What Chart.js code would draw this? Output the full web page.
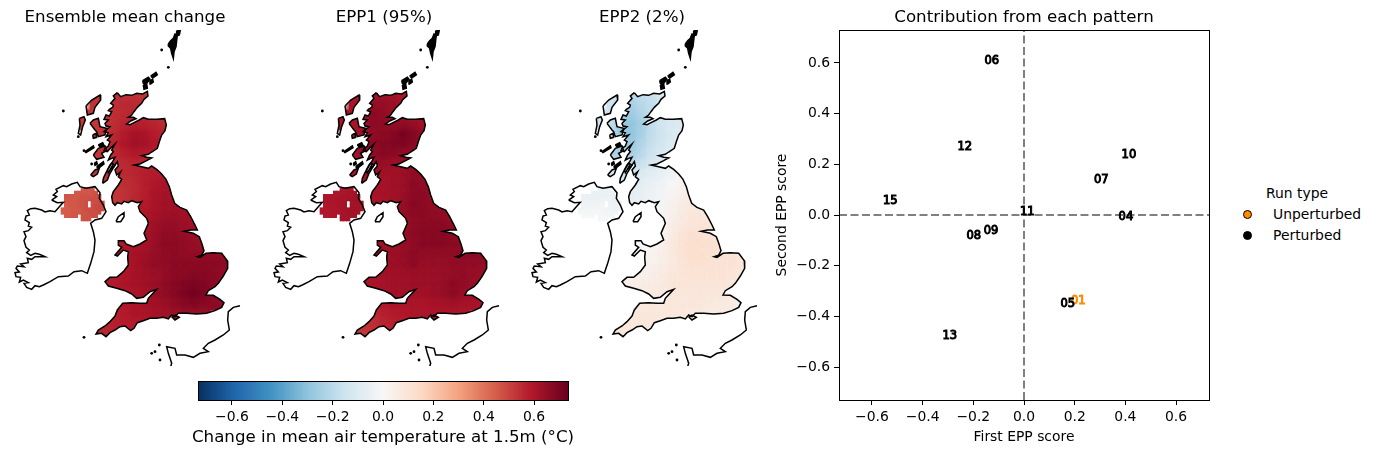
<!DOCTYPE html>
<html>
<head>
<meta charset="utf-8">
<title>Pattern contributions</title>
<script src="https://cdn.jsdelivr.net/npm/chart.js@4"></script>
<style>
  html, body { margin:0; padding:0; background:#fff; }
  body { width:1376px; height:454px; position:relative; overflow:hidden; font-family:"DejaVu Sans"; color:#000; }
  canvas { position:absolute; }
  .legend { position:absolute; left:1240px; top:185px; width:136px; height:65px; font-size:13.9px; }
  .legend div { position:absolute; white-space:nowrap; }
  .legend i { position:absolute; width:7px; height:7px; border:1px solid #000; border-radius:50%; }
  .barTitle { position:absolute; left:133px; top:427px; width:500px; text-align:center; font-size:16.67px; line-height:20px; white-space:nowrap; }
</style>
</head>
<body>
<canvas id="mapEnsemble" width="250" height="366" style="left:0;top:0"></canvas>
<canvas id="mapEpp1" width="250" height="366" style="left:259px;top:0"></canvas>
<canvas id="mapEpp2" width="250" height="366" style="left:517px;top:0"></canvas>
<canvas id="colorBar" width="430" height="79" style="left:170px;top:375px"></canvas>
<canvas id="scoreChart" width="460" height="454" style="left:770px;top:0"></canvas>
<div class="barTitle">Change in mean air temperature at 1.5m (°C)</div>
<div class="legend">
  <div style="left:26px;top:0">Run type</div>
  <i style="left:3px;top:25px;background:#ff8c00"></i><div style="left:33px;top:21px">Unperturbed</div>
  <i style="left:3px;top:46px;background:#000"></i><div style="left:33px;top:42px">Perturbed</div>
</div>
<script>
/* ============================================
   DATA
============================================ */
const _ = null;

const runIds = ["01","04","05","06","07","08","09","10","11","12","13","15"];
const firstScores  = [0.214,0.402,0.173,-0.127,0.305,-0.198,-0.130,0.414,0.013,-0.234,-0.293,-0.528];
const secondScores = [-0.338,-0.008,-0.351,0.608,0.138,-0.083,-0.062,0.238,0.013,0.269,-0.478,0.054];
const runTypes = ["Unperturbed","Perturbed","Perturbed","Perturbed","Perturbed","Perturbed","Perturbed","Perturbed","Perturbed","Perturbed","Perturbed","Perturbed"];
const scoreTicks = [-0.6,-0.4,-0.2,0,0.2,0.4,0.6];

/* map grid: cell centres */
const gridCols = [255,285,315,345,375,405,435,465,495,525,555,585,615,645,675];
const gridRows = [225,255,285,315,345,375,405,435,465,495,525,555,585,615,645,675,705,735,765,795,825,855,885,915,945];

const ensembleCells = [
[_,.53,.53,.54,.54,.54,.53,.53,_,_,_,_,_,_,_],
[_,.53,.53,.54,.55,.55,.54,_,_,_,_,_,_,_,_],
[.52,.52,.53,.54,.55,.56,.55,.54,.54,.53,_,_,_,_,_],
[.52,.52,.53,.54,.56,.57,.57,.56,.55,.54,_,_,_,_,_],
[_,.52,.53,.55,.58,.61,.60,.58,.56,.54,_,_,_,_,_],
[_,.52,.53,.56,.59,.62,.61,.59,.57,_,_,_,_,_,_],
[_,.52,.53,.55,.57,.59,.58,.57,.56,_,_,_,_,_,_],
[_,.52,.53,.54,.55,.56,.56,.56,.56,_,_,_,_,_,_],
[_,.52,.53,.54,.55,.56,.57,.58,.58,.58,_,_,_,_,_],
[_,.52,.52,.53,.54,.55,.57,.59,.60,.60,_,_,_,_,_],
[_,_,.52,.52,.53,.55,.57,.60,.61,.61,.60,_,_,_,_],
[_,_,.52,.52,.54,.56,.58,.60,.62,.62,.61,_,_,_,_],
[_,_,_,_,_,.57,.59,.61,.62,.63,.62,.61,_,_,_],
[_,_,_,_,_,.58,.60,.62,.64,.64,.63,.62,.61,_,_],
[_,_,_,_,.58,.59,.60,.63,.65,.65,.64,.63,.62,_,_],
[_,_,_,.58,.59,.60,.61,.63,.66,.66,.65,.64,.63,.63,.63],
[_,_,_,.58,.59,.61,.62,.64,.65,.66,.65,.65,.65,.65,.65],
[_,_,_,.58,.59,.61,.63,.65,.65,.66,.66,.66,.66,.66,.66],
[_,_,.57,.58,.59,.61,.62,.63,.64,.66,.66,.67,.67,.66,.65],
[_,.56,.57,.58,.60,.61,.62,.63,.65,.67,.68,.69,.68,.66,.65],
[_,_,.57,.58,.59,.60,.61,.63,.65,.67,.69,.71,.69,.67,.66],
[_,_,.55,.57,.59,.60,.61,.62,.63,.65,.67,.68,.67,.66,.65],
[_,.55,.56,.57,.58,.60,.60,.61,.62,.63,.64,.64,.64,_,_],
[.54,.55,.56,.57,.58,.58,.59,_,_,_,_,_,_,_,_],
[.54,.55,.56,.56,.56,_,_,_,_,_,_,_,_,_,_]
];

const epp1Cells = [
[_,.60,.60,.62,.62,.62,.60,.60,_,_,_,_,_,_,_],
[_,.60,.62,.64,.64,.63,.61,_,_,_,_,_,_,_,_],
[.60,.60,.62,.66,.65,.63,.62,.62,.60,.60,_,_,_,_,_],
[.60,.60,.62,.66,.65,.64,.65,.64,.62,.60,_,_,_,_,_],
[_,.60,.63,.65,.66,.67,.70,.68,.64,.60,_,_,_,_,_],
[_,.60,.64,.66,.67,.68,.69,.67,.64,_,_,_,_,_,_],
[_,.60,.64,.65,.67,.66,.65,.64,.63,_,_,_,_,_,_],
[_,.60,.62,.64,.64,.63,.63,.63,.63,_,_,_,_,_,_],
[_,.60,.61,.62,.62,.62,.63,.65,.65,.63,_,_,_,_,_],
[_,.60,.60,.61,.61,.62,.63,.66,.65,.63,_,_,_,_,_],
[_,_,.60,.60,.61,.62,.63,.66,.66,.64,.63,_,_,_,_],
[_,_,.60,.60,.61,.62,.64,.67,.66,.65,.64,_,_,_,_],
[_,_,_,_,_,.62,.64,.66,.66,.65,.65,.64,_,_,_],
[_,_,_,_,_,.62,.63,.65,.66,.66,.66,.65,.64,_,_],
[_,_,_,_,.62,.62,.63,.66,.67,.67,.67,.66,.64,_,_],
[_,_,_,.61,.62,.63,.64,.65,.67,.67,.67,.66,.66,.66,.66],
[_,_,_,.61,.62,.63,.64,.66,.65,.65,.65,.65,.66,.66,.66],
[_,_,_,.61,.62,.63,.64,.66,.64,.64,.64,.65,.65,.65,.65],
[_,_,.60,.60,.62,.62,.63,.63,.63,.63,.64,.64,.65,.64,.64],
[_,.59,.60,.60,.61,.62,.62,.63,.63,.63,.64,.66,.65,.64,.63],
[_,_,.59,.60,.61,.62,.62,.62,.62,.63,.64,.66,.64,.63,.62],
[_,_,.55,.57,.59,.60,.60,.60,.60,.61,.61,.62,.61,.61,.60],
[_,.53,.54,.55,.57,.58,.59,.60,.60,.60,.60,.60,.60,_,_],
[.50,.52,.53,.54,.56,.57,.58,_,_,_,_,_,_,_,_],
[.50,.51,.52,.53,.54,_,_,_,_,_,_,_,_,_,_]
];

const epp2Cells = [
[_,-.12,-.15,-.20,-.18,-.16,-.12,-.10,_,_,_,_,_,_,_],
[_,-.15,-.20,-.24,-.20,-.18,-.14,_,_,_,_,_,_,_,_],
[-.15,-.15,-.24,-.26,-.22,-.18,-.14,-.12,-.10,-.10,_,_,_,_,_],
[-.15,-.18,-.27,-.29,-.25,-.18,-.14,-.11,-.10,-.10,_,_,_,_,_],
[_,-.20,-.27,-.29,-.24,-.18,-.15,-.11,-.09,-.08,_,_,_,_,_],
[_,-.22,-.27,-.27,-.22,-.17,-.14,-.10,-.08,_,_,_,_,_,_],
[_,-.22,-.25,-.25,-.20,-.15,-.11,-.09,-.07,_,_,_,_,_,_],
[_,-.18,-.20,-.20,-.16,-.12,-.09,-.07,-.06,_,_,_,_,_,_],
[_,-.14,-.14,-.12,-.10,-.08,-.05,-.03,0,.02,_,_,_,_,_],
[_,-.10,-.10,-.09,-.07,-.05,-.03,0,.02,.03,_,_,_,_,_],
[_,_,-.08,-.07,-.06,-.04,-.02,.01,.03,.05,.05,_,_,_,_],
[_,_,-.06,-.05,-.05,-.04,-.01,.03,.05,.07,.06,_,_,_,_],
[_,_,_,_,_,-.04,-.01,.03,.06,.08,.08,.07,_,_,_],
[_,_,_,_,_,-.03,0,.04,.07,.09,.09,.09,.08,_,_],
[_,_,_,_,-.02,-.02,.01,.05,.09,.11,.11,.10,.09,_,_],
[_,_,_,0,0,.01,.03,.07,.10,.12,.12,.11,.10,.09,.09],
[_,_,_,.01,.01,.02,.04,.07,.10,.12,.12,.11,.10,.10,.09],
[_,_,_,.01,.02,.03,.04,.07,.09,.11,.11,.10,.10,.10,.09],
[_,_,.03,.03,.03,.04,.06,.08,.09,.10,.10,.10,.10,.09,.08],
[_,.04,.04,.04,.05,.06,.07,.08,.09,.09,.09,.09,.09,.08,.07],
[_,_,.05,.05,.05,.06,.07,.08,.08,.08,.08,.08,.08,.07,.06],
[_,_,.07,.07,.07,.07,.07,.08,.08,.08,.08,.07,.07,.06,.05],
[_,.08,.08,.08,.08,.08,.08,.08,.08,.07,.07,.06,.06,_,_],
[.08,.08,.08,.08,.08,.08,.07,_,_,_,_,_,_,_,_],
[.08,.08,.08,.08,.08,_,_,_,_,_,_,_,_,_,_]
];

/* Northern Ireland is on a finer grid */
const niCols = [188,198,208,218,228,238,248,258,268,278,288,298,308];
const niRows = [508,518,528,538,548,558,568,578,588,598];

const ensembleNi = [
[_,_,_,_,_,_,.46,.46,.46,.46,_,_,_],
[_,_,_,_,.46,.46,.46,.46,.46,.47,.47,_,_],
[_,.47,.46,.46,.46,.46,.47,.47,.47,.47,.48,.48,_],
[_,.46,.46,.46,.46,.47,.47,.47,.48,.48,.48,.48,_],
[_,.46,.46,.46,.46,.47,.47,.48,_,.48,.48,.49,.49],
[_,.45,.46,.46,.46,.47,.47,.48,_,.48,.49,.49,.49],
[.45,.45,.45,.46,.46,.46,.47,.48,.48,.48,.49,.49,.49],
[.45,.45,.45,.46,.46,.46,.47,.47,.48,.48,.48,.49,_],
[_,.45,.45,.46,.46,_,.47,.47,.47,.48,.48,_,_],
[_,_,_,_,_,_,.47,.47,.47,_,_,_,_]
];

const epp1Ni = [
[_,_,_,_,_,_,.60,.60,.60,.60,_,_,_],
[_,_,_,_,.60,.60,.60,.60,.61,.61,.61,_,_],
[_,.60,.60,.60,.60,.60,.61,.61,.61,.61,.62,.62,_],
[_,.60,.60,.60,.60,.61,.61,.61,.62,.62,.62,.62,_],
[_,.60,.60,.60,.60,.61,.61,.62,_,.62,.62,.62,.62],
[_,.59,.60,.60,.60,.61,.61,.62,_,.62,.62,.62,.62],
[.59,.59,.59,.60,.60,.60,.61,.62,.62,.62,.62,.62,.62],
[.59,.59,.59,.60,.60,.60,.61,.61,.62,.62,.62,.62,_],
[_,.59,.59,.60,.60,_,.61,.61,.61,.62,.62,_,_],
[_,_,_,_,_,_,.61,.61,.61,_,_,_,_]
];

const epp2Ni = [
[_,_,_,_,_,_,-.05,-.05,-.05,-.05,_,_,_],
[_,_,_,_,-.05,-.05,-.05,-.05,-.05,-.05,-.05,_,_],
[_,-.05,-.05,-.05,-.05,-.05,-.05,-.05,-.05,-.05,-.05,-.05,_],
[_,-.05,-.05,-.05,-.05,-.05,-.04,-.04,-.04,-.04,-.05,-.05,_],
[_,-.04,-.04,-.04,-.04,-.04,-.03,-.03,_,-.04,-.04,-.05,-.05],
[_,-.03,-.03,-.03,-.03,-.03,-.03,-.02,_,-.03,-.04,-.04,-.04],
[-.02,-.02,-.02,-.02,-.02,-.02,-.02,-.02,-.02,-.03,-.03,-.04,-.04],
[-.01,-.01,-.01,-.01,-.01,-.01,-.01,-.01,-.02,-.02,-.03,-.03,_],
[_,0,0,0,0,_,-.01,-.01,-.01,-.02,-.02,_,_],
[_,_,_,_,_,_,-.01,-.01,-.01,_,_,_,_]
];

/* coastlines, map grid units, x,y pairs */
const coastGreatBritain = [352,218,362,230,378,224,395,226,410,220,428,222,442,214,444,228,432,238,425,250,412,262,402,275,395,285,385,292,400,292,408,296,392,303,380,312,390,314,402,308,418,300,430,293,445,298,470,298,494,296,499,315,495,332,485,345,478,365,472,385,455,396,445,403,425,407,440,412,455,414,440,422,420,432,403,435,425,440,445,445,455,438,470,448,485,462,498,478,508,500,515,525,524,550,540,562,560,570,572,590,585,615,592,630,572,630,552,634,580,640,598,650,606,672,612,692,605,706,592,710,600,712,618,700,640,698,665,700,682,722,683,745,670,768,655,790,645,800,625,812,618,825,640,826,660,838,672,848,665,862,645,872,620,880,590,882,560,880,535,880,525,890,515,885,505,897,490,892,470,895,450,895,430,902,412,908,402,925,392,932,375,918,360,920,345,930,330,938,318,950,305,940,288,942,295,930,315,918,330,905,345,888,352,870,368,850,395,848,420,850,440,850,445,835,470,808,450,815,430,832,410,835,395,822,375,812,350,805,325,798,315,785,330,772,350,772,370,755,385,735,383,712,385,695,370,690,352,708,345,705,365,682,355,675,355,662,372,662,378,672,400,680,420,672,440,660,432,640,445,610,440,595,420,575,415,560,425,545,412,548,395,542,385,548,372,544,365,552,352,548,345,556,338,548,335,530,340,515,355,495,365,478,355,470,362,455,350,465,345,450,355,438,352,425,342,440,335,445,340,432,325,458,322,450,330,435,338,425,345,412,335,415,325,420,332,405,340,395,335,390,345,372,332,384,322,395,312,392,315,385,325,378,330,365,322,360,335,345,318,350,325,338,312,335,330,320,318,318,315,310,325,300,312,298,318,285,328,288,335,275,325,272,328,268,338,262,340,255,332,250,345,235,340,228,352,218];
const coastIreland = [155,540,170,530,160,525,172,515,168,508,190,497,200,500,215,492,232,487,240,500,258,505,285,500,300,518,298,535,310,555,318,575,305,595,285,600,272,610,280,635,285,660,282,695,272,730,262,760,245,752,222,755,205,768,175,770,150,785,130,795,118,800,105,797,95,808,80,802,72,790,85,788,70,780,58,786,62,772,48,770,45,758,58,756,48,745,52,738,72,740,62,732,85,728,82,715,95,718,105,710,135,710,118,703,105,700,92,706,80,698,88,690,78,682,72,662,78,650,72,635,85,632,95,622,85,618,88,608,75,600,78,588,88,585,82,572,92,566,105,565,125,570,135,576,150,572,165,575,178,560,190,547,172,548,155,540];
const coastKintyre = [308,490,322,480,330,460,345,435,335,430,318,458,310,475,308,490];
const coastIslay = [272,465,285,450,298,445,292,462,280,470,272,465];
const coastJura = [290,440,310,425,312,432,295,445,290,440];
const coastMull = [280,405,295,385,315,378,320,392,305,400,312,412,290,418,280,405];
const coastLismore = [295,375,308,368,312,376,300,380,295,375];
const coastColonsay = [283,430,290,425,292,432,285,436,283,430];
const coastTiree = [255,395,280,378,282,383,258,398,255,395];
const coastSkye = [270,310,280,300,295,295,300,320,320,325,315,345,295,350,290,335,285,330,270,310];
const coastRum = [278,345,288,340,290,352,280,355,278,345];
const coastLewis = [258,258,275,240,300,225,302,240,285,262,280,280,262,285,258,258];
const coastUist = [238,295,252,290,256,300,248,320,242,345,235,340,240,315,238,295];
const coastOrkneyMain = [428,182,445,172,450,178,440,190,430,190,428,182];
const coastOrkneyHoy = [430,195,440,192,442,205,432,208,430,195];
const coastOrkneyNorth = [452,168,468,157,472,164,458,174,452,168];
const coastOrkneyEast = [450,182,458,178,460,186,452,192,450,182];
const coastShetland = [505,72,512,62,520,55,525,42,532,45,530,62,528,80,522,95,520,115,515,100,512,85,505,78,505,72];
const coastUnst = [530,32,541,30,538,45,530,48,530,32];
const coastMan = [348,605,355,590,372,578,372,590,362,605,348,605];
const coastWight = [515,890,525,885,538,892,525,900,515,890];
const coastFrance = [720,857,700,862,685,875,683,900,688,930,670,945,645,960,625,970,610,985,625,995,600,1000,580,1012,555,1005,530,1005,525,985,500,980,505,1000,515,1030,512,1040];
const islandDotsX = [190,485,505,252,455,465,480,478,235,252,275];
const islandDotsY = [273,90,142,952,1000,995,1020,975,350,392,432];

const rdbuStops = ["#053061","#2166ac","#4393c3","#92c5de","#d1e5f0","#f7f7f7","#fddbc7","#f4a582","#d6604d","#b2182b","#67001f"];
const colorLimit = 0.735;

/* ============================================
   HELPERS
============================================ */
Chart.defaults.font.family = "'DejaVu Sans'";
Chart.defaults.color = "#000";
Chart.defaults.animation = false;
Chart.defaults.layout.autoPadding = false;

const hexRgb = h => [1,3,5].map(i => parseInt(h.substr(i,2),16));

function valueColor(v){
  const t = Math.min(1, Math.max(0, (v + colorLimit) / (2 * colorLimit))) * (rdbuStops.length - 1);
  const i = Math.min(Math.floor(t), rdbuStops.length - 2);
  const a = hexRgb(rdbuStops[i]), b = hexRgb(rdbuStops[i+1]);
  const f = t - i;
  return "rgb(" + a.map((c,k) => Math.round(c + (b[k]-c)*f)).join(",") + ")";
}

const toPoints = flat => {
  const out = [];
  for(let i=0;i<flat.length;i+=2) out.push({x:flat[i], y:flat[i+1]});
  return out;
};

function cellDataset(rows, cols, ys, radius, order, landCells, blur){
  const data = [], colors = [];
  ys.forEach((y,r) => cols.forEach((x,c) => {
    const v = rows[r][c];
    if(v !== null){ data.push({x,y}); colors.push(valueColor(v)); }
  }));
  return {
    data, pointStyle:"rect", pointRadius:radius, pointBorderWidth:0,
    pointBackgroundColor:colors, showLine:false, order, landCells, blur
  };
}

const landShapes = [coastGreatBritain,coastKintyre,coastIslay,coastJura,coastMull,coastLismore,coastColonsay,coastTiree,coastSkye,coastRum,coastLewis,coastUist,coastShetland,coastUnst,coastWight];
const orkneyShapes = [coastOrkneyMain,coastOrkneyHoy,coastOrkneyNorth,coastOrkneyEast];
const coastOutlines = [coastIreland,coastMan,coastFrance].concat(landShapes,orkneyShapes);
const solidIslands = [coastShetland,coastUnst,coastLismore,coastColonsay,coastTiree,coastJura].concat(orkneyShapes);

/* keep the mainland cells inside the coast, the upper pass is softened */
const landClip = {
  id:"landClip",
  beforeDatasetDraw(chart,args){
    const ds = chart.data.datasets[args.index];
    if(!ds.landCells) return;
    const ctx = chart.ctx, sx = chart.scales.x, sy = chart.scales.y;
    ctx.save();
    ctx.beginPath();
    landShapes.forEach(shape => {
      toPoints(shape).forEach((p,i) => {
        const px = sx.getPixelForValue(p.x), py = sy.getPixelForValue(p.y);
        if(i===0) ctx.moveTo(px,py); else ctx.lineTo(px,py);
      });
      ctx.closePath();
    });
    ctx.clip();
    if(ds.blur) ctx.filter = "blur(3px)";
  },
  afterDatasetDraw(chart,args){
    if(chart.data.datasets[args.index].landCells) chart.ctx.restore();
  }
};

/* ============================================
   MAP PANELS
============================================ */
function renderMap(id, title, cells, niCells){
  const datasets = [
    cellDataset(cells, gridCols, gridRows, 7.4, 4, true, false),
    cellDataset(cells, gridCols, gridRows, 8.6, 3, true, true),
    cellDataset(niCells, niCols, niRows, 2.8, 2, false, false)
  ];
  coastOutlines.forEach(shape => datasets.push({
    data:toPoints(shape), showLine:true, pointRadius:0, tension:0,
    borderColor:"#000", borderWidth:1.5, order:1,
    fill:solidIslands.includes(shape) ? "shape" : false, backgroundColor:"#000"
  }));
  datasets.push({
    data:islandDotsX.map((x,i)=>({x, y:islandDotsY[i]})),
    pointRadius:1.4, pointBackgroundColor:"#000", pointBorderWidth:0, showLine:false, order:0
  });

  new Chart(document.getElementById(id),{
    type:"scatter",
    data:{datasets},
    plugins:[landClip],
    options:{
      responsive:false,
      layout:{padding:0},
      plugins:{
        legend:{display:false},
        tooltip:{enabled:false},
        title:{display:true, text:title, font:{size:16.67, weight:"normal"}, padding:{top:8,bottom:2}}
      },
      scales:{
        x:{type:"linear", display:false, min:0, max:750},
        y:{type:"linear", display:false, reverse:true, min:30, max:1038}
      }
    }
  });
}

renderMap("mapEnsemble","Ensemble mean change",ensembleCells,ensembleNi);
renderMap("mapEpp1","EPP1 (95%)",epp1Cells,epp1Ni);
renderMap("mapEpp2","EPP2 (2%)",epp2Cells,epp2Ni);

/* ============================================
   COLOUR BAR
============================================ */
const minusLabel = v => (v<0 ? "\u2212" : "") + Math.abs(v).toFixed(1);

const frameBox = {
  id:"frameBox",
  afterDraw(chart){
    const a = chart.chartArea, ctx = chart.ctx;
    ctx.save();
    ctx.strokeStyle = "#000";
    ctx.lineWidth = 1;
    ctx.strokeRect(a.left+0.5, a.top+0.5, a.right-a.left, a.bottom-a.top);
    ctx.restore();
  }
};

new Chart(document.getElementById("colorBar"),{
  type:"line",
  data:{datasets:[{
    data:[{x:-colorLimit,y:1},{x:colorLimit,y:1}],
    pointRadius:0, borderWidth:0, fill:"origin",
    backgroundColor(c){
      const a = c.chart.chartArea;
      if(!a) return "#fff";
      const g = c.chart.ctx.createLinearGradient(a.left,0,a.right,0);
      rdbuStops.forEach((col,i) => g.addColorStop(i/(rdbuStops.length-1), col));
      return g;
    }
  }]},
  plugins:[frameBox],
  options:{
    responsive:false,
    layout:{padding:{left:28,right:32,top:6,bottom:0}},
    plugins:{legend:{display:false}, tooltip:{enabled:false}},
    scales:{
      y:{display:false, min:0, max:1},
      x:{
        type:"linear", min:-colorLimit, max:colorLimit,
        afterBuildTicks(s){ s.ticks = scoreTicks.map(value=>({value})); },
        afterFit(s){ s.height = 54; },
        grid:{drawOnChartArea:false, drawTicks:true, tickLength:5, color:"#000"},
        border:{display:false},
        ticks:{autoSkip:false, maxRotation:0, padding:4, font:{size:13.9}, callback:minusLabel}
      }
    }
  }
});

/* ============================================
   SCORE SCATTER
============================================ */
const runLabels = {
  id:"runLabels",
  afterDatasetsDraw(chart){
    const ctx = chart.ctx, sx = chart.scales.x, sy = chart.scales.y;
    ctx.save();
    ctx.font = "11.5px 'DejaVu Sans'";
    ctx.textAlign = "center";
    ctx.textBaseline = "middle";
    runIds.forEach((id,i) => {
      const px = sx.getPixelForValue(firstScores[i]), py = sy.getPixelForValue(secondScores[i]);
      ctx.fillStyle = runTypes[i]==="Unperturbed" ? "#ff8c00" : "#000";
      ctx.strokeStyle = ctx.fillStyle;
      ctx.lineWidth = 1;
      ctx.strokeText(id,px,py);
      ctx.fillText(id,px,py);
    });
    ctx.restore();
  }
};

const scoreLimit = 0.73;
const scoreAxis = extra => Object.assign({
  type:"linear", min:-scoreLimit, max:scoreLimit,
  afterBuildTicks(s){ s.ticks = scoreTicks.map(value=>({value})); },
  grid:{drawOnChartArea:false, drawTicks:true, tickLength:5, color:"#000"},
  border:{display:false},
  ticks:{autoSkip:false, maxRotation:0, padding:4, font:{size:13.9}, callback:minusLabel}
}, extra);

new Chart(document.getElementById("scoreChart"),{
  type:"scatter",
  data:{datasets:[
    {data:firstScores.map((x,i)=>({x,y:secondScores[i]})), pointRadius:0, showLine:false},
    {data:[{x:-scoreLimit,y:0},{x:scoreLimit,y:0}], showLine:true, pointRadius:0, borderColor:"#808080", borderWidth:2, borderDash:[8,3.5]},
    {data:[{x:0,y:-scoreLimit},{x:0,y:scoreLimit}], showLine:true, pointRadius:0, borderColor:"#808080", borderWidth:2, borderDash:[8,3.5]}
  ]},
  plugins:[frameBox,runLabels],
  options:{
    responsive:false,
    layout:{padding:{right:21}},
    plugins:{
      legend:{display:false}, tooltip:{enabled:false},
      title:{display:true, fullSize:false, text:"Contribution from each pattern", font:{size:16.67, weight:"normal"}, padding:{top:8,bottom:2}}
    },
    scales:{
      x:scoreAxis({
        afterFit(s){ s.height = 54; },
        title:{display:true, text:"First EPP score", font:{size:13.9}, padding:{top:0,bottom:8}}
      }),
      y:scoreAxis({
        afterFit(s){ s.width = 69; },
        title:{display:true, text:"Second EPP score", font:{size:13.9}, padding:{top:4,bottom:0}}
      })
    }
  }
});
</script>
</body>
</html>
